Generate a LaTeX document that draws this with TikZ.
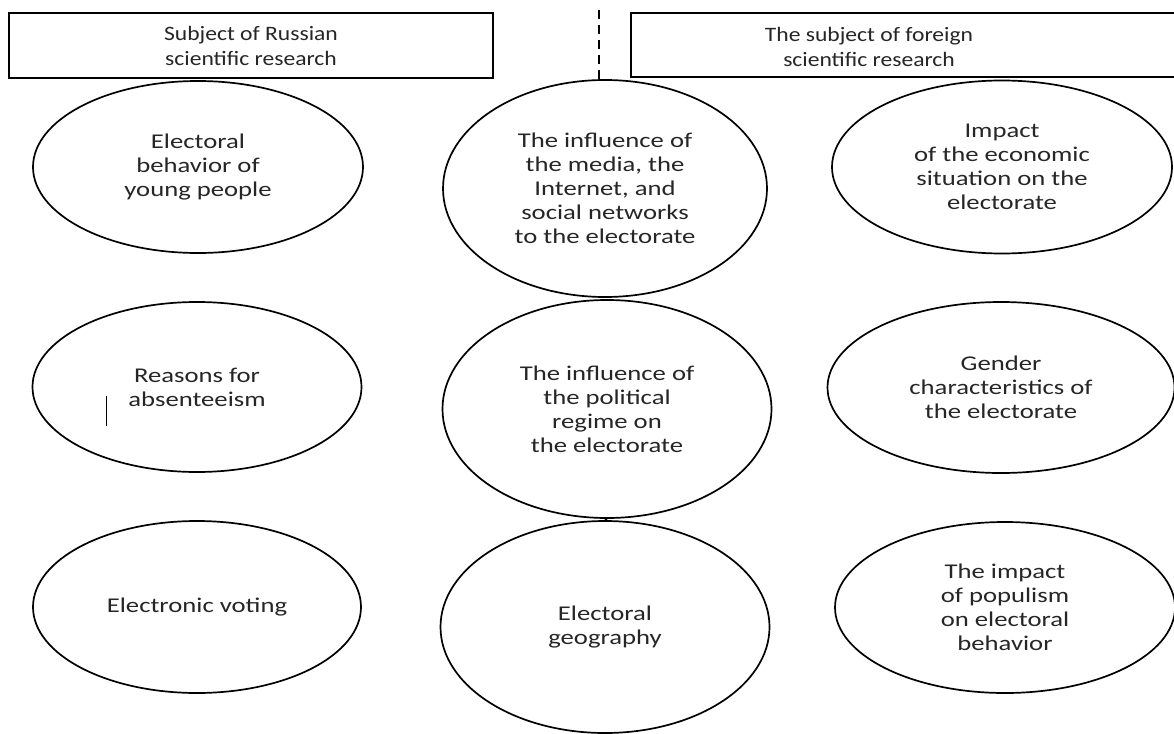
\documentclass[tikz,border=0pt]{standalone}
\usepackage{fontspec}
\setmainfont{Carlito}
\newfontfamily\ovalfont{Carlito}[FakeStretch=1.27]
\newfontfamily\headfont{Carlito}[FakeStretch=1.15]
\usetikzlibrary{shapes.geometric}
\begin{document}
\begin{tikzpicture}[x=1pt,y=-1pt,
  oval/.style={draw, ellipse, line width=1.7pt, inner sep=0pt, align=center,
    text=black!85, font=\ovalfont\fontsize{21}{24}\selectfont},
  headbox/.style={draw, rectangle, line width=1.8pt, inner sep=0pt, align=center,
    text=black!85, font=\headfont\fontsize{20.5}{25}\selectfont},
  headtext/.style={align=center, inner sep=0pt, text=black!85, font=\headfont\fontsize{20.5}{25}\selectfont},
  dashline/.style={line width=1.8pt, dash pattern=on 9pt off 6pt},
  tick/.style={line width=1pt},
  link/.style={line width=1.4pt}
]
\useasboundingbox (0,0) rectangle (1174,733);
\fill[white] (0,0) rectangle (1174,733);

% header boxes
\node[headbox, minimum width=484pt, minimum height=65pt] (lbox) at (251,45.5)
  {Subject of Russian\\scientific research};
\node[headbox, minimum width=560pt, minimum height=64pt] (rbox) at (911,45) {};
\node[headtext] (rtext) at (869,47) {The subject of foreign\\scientific research};

% left column
\node[oval, minimum width=330pt, minimum height=172pt] (e1) at (198,167)
  {Electoral\\behavior of\\young people};
\node[oval, minimum width=329pt, minimum height=170pt] (e2) at (197,387)
  {Reasons for\\absenteeism};
\node[oval, minimum width=328pt, minimum height=172pt] (e3) at (197,607)
  {Electronic voting};

% middle column
\node[oval, minimum width=324pt, minimum height=217pt] (m1) at (605,188.5)
  {The influence of\\the media, the\\Internet, and\\social networks\\to the electorate};
\node[oval, minimum width=329pt, minimum height=218pt] (m2) at (607,409)
  {The influence of\\the political\\regime on\\the electorate};
\node[oval, minimum width=329pt, minimum height=212pt] (m3) at (605,627)
  {Electoral\\geography};

% right column
\node[oval, minimum width=340pt, minimum height=173pt] (r1) at (1002,167)
  {Impact\\of the economic\\situation on the\\electorate};
\node[oval, minimum width=347pt, minimum height=171pt] (r2) at (1001,387.5)
  {Gender\\characteristics of\\the electorate};
\node[oval, minimum width=340pt, minimum height=171pt] (r3) at (1005,607.5)
  {The impact\\of populism\\on electoral\\behavior};

% dashed divider
\coordinate (dtop) at (599,10);
\draw[dashline] (dtop) -- (dtop |- m1.north);

% small connector between middle ellipses
\draw[link] (m2.south) -- (m3.north);

% stray tick inside the second left ellipse
\coordinate (t1) at (106,396);
\coordinate (t2) at (106,426);
\draw[tick] (t1) -- (t2);
\end{tikzpicture}
\end{document}
